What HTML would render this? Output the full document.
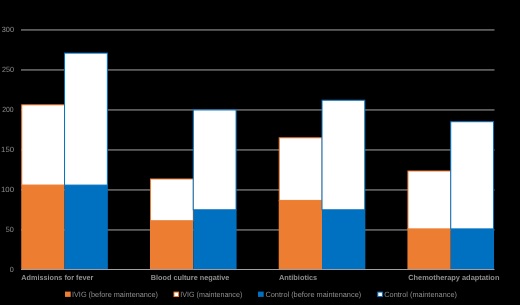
<!DOCTYPE html>
<html><head><meta charset="utf-8"><style>
html,body{margin:0;padding:0;background:#000;width:520px;height:305px;overflow:hidden}
svg{display:block}
text{font-family:"Liberation Sans",sans-serif;fill:#8e8e8e;text-rendering:geometricPrecision}
.tx{filter:grayscale(1)}
.yl{font-size:7.6px}
.cl{font-size:7.4px;font-weight:bold}
.lg{font-size:7.5px}
</style></head><body>
<svg width="520" height="305" viewBox="0 0 520 305">
<rect width="520" height="305" fill="#000"/>
<rect x="21" y="29.45" width="473.5" height="1" fill="#a5a5a5"/>
<rect x="21" y="69.45" width="473.5" height="1" fill="#a5a5a5"/>
<rect x="21" y="109.45" width="473.5" height="1" fill="#a5a5a5"/>
<rect x="21" y="149.45" width="473.5" height="1" fill="#a5a5a5"/>
<rect x="21" y="189.45" width="473.5" height="1" fill="#a5a5a5"/>
<rect x="21" y="229.45" width="473.5" height="1" fill="#a5a5a5"/>
<rect x="21.25" y="184.55" width="43.30" height="84.95" fill="#ED7D31"/>
<rect x="21.75" y="104.85" width="42.80" height="80.20" fill="#fff" stroke="#ED7D31" stroke-width="1"/>
<rect x="64.55" y="184.60" width="43.30" height="84.90" fill="#0070C0"/>
<rect x="64.55" y="53.10" width="42.80" height="132.00" fill="#fff" stroke="#0070C0" stroke-width="1"/>
<rect x="149.98" y="220.25" width="43.30" height="49.25" fill="#ED7D31"/>
<rect x="150.48" y="179.00" width="42.80" height="41.75" fill="#fff" stroke="#ED7D31" stroke-width="1"/>
<rect x="193.28" y="209.30" width="43.30" height="60.20" fill="#0070C0"/>
<rect x="193.28" y="109.95" width="42.80" height="99.85" fill="#fff" stroke="#0070C0" stroke-width="1"/>
<rect x="278.71" y="199.90" width="43.30" height="69.60" fill="#ED7D31"/>
<rect x="279.21" y="137.80" width="42.80" height="62.60" fill="#fff" stroke="#ED7D31" stroke-width="1"/>
<rect x="322.01" y="209.30" width="43.30" height="60.20" fill="#0070C0"/>
<rect x="322.01" y="100.20" width="42.80" height="109.60" fill="#fff" stroke="#0070C0" stroke-width="1"/>
<rect x="407.44" y="228.40" width="43.30" height="41.10" fill="#ED7D31"/>
<rect x="407.94" y="171.00" width="42.80" height="57.90" fill="#fff" stroke="#ED7D31" stroke-width="1"/>
<rect x="450.74" y="228.40" width="43.30" height="41.10" fill="#0070C0"/>
<rect x="450.74" y="121.70" width="42.80" height="107.20" fill="#fff" stroke="#0070C0" stroke-width="1"/>
<rect x="21" y="269.00" width="473.5" height="1" fill="#a0a0a0"/>
<rect x="65" y="291.6" width="5.7" height="5.3" fill="#ED7D31"/>
<rect x="174.0" y="292.1" width="4.6" height="4.4" fill="#fff" stroke="#ED7D31" stroke-width="1"/>
<rect x="258" y="291.6" width="5.7" height="5.3" fill="#0070C0"/>
<rect x="377.8" y="292.1" width="4.6" height="4.4" fill="#fff" stroke="#0070C0" stroke-width="1"/>
<g class="tx">
<text x="1.73" y="32.15" class="yl" textLength="12.25" lengthAdjust="spacingAndGlyphs">300</text>
<text x="1.95" y="72.15" class="yl" textLength="12.02" lengthAdjust="spacingAndGlyphs">250</text>
<text x="2.16" y="112.15" class="yl" textLength="11.45" lengthAdjust="spacingAndGlyphs">200</text>
<text x="1.12" y="152.15" class="yl" textLength="12.90" lengthAdjust="spacingAndGlyphs">150</text>
<text x="1.04" y="192.15" class="yl" textLength="12.99" lengthAdjust="spacingAndGlyphs">100</text>
<text x="5.76" y="232.15" class="yl" textLength="8.08" lengthAdjust="spacingAndGlyphs">50</text>
<text x="9.71" y="272.15" class="yl" textLength="4.04" lengthAdjust="spacingAndGlyphs">0</text>
<text x="21.34" y="280.30" class="cl" textLength="72.04" lengthAdjust="spacingAndGlyphs">Admissions for fever</text>
<text x="150.76" y="280.30" class="cl" textLength="78.56" lengthAdjust="spacingAndGlyphs">Blood culture negative</text>
<text x="278.99" y="280.30" class="cl" textLength="38.18" lengthAdjust="spacingAndGlyphs">Antibiotics</text>
<text x="408.17" y="280.30" class="cl" textLength="91.26" lengthAdjust="spacingAndGlyphs">Chemotherapy adaptation</text>
<text x="71.96" y="296.60" class="lg" textLength="86.08" lengthAdjust="spacingAndGlyphs">IVIG (before maintenance)</text>
<text x="180.36" y="296.60" class="lg" textLength="61.90" lengthAdjust="spacingAndGlyphs">IVIG (maintenance)</text>
<text x="265.39" y="296.60" class="lg" textLength="95.82" lengthAdjust="spacingAndGlyphs">Control (before maintenance)</text>
<text x="384.32" y="296.60" class="lg" textLength="72.61" lengthAdjust="spacingAndGlyphs">Control (maintenance)</text>
</g>
</svg>
</body></html>
